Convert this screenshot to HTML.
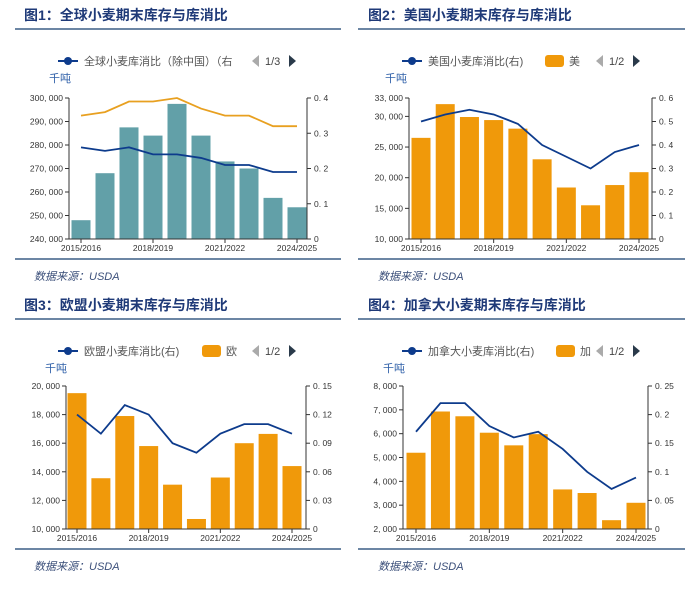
<!DOCTYPE html>
<html><head><meta charset="utf-8">
<style>
body{margin:0;background:#fff;}
svg{display:block;font-family:"Liberation Sans","Noto Sans CJK SC",sans-serif;}
</style></head>
<body>
<svg id="root" width="700" height="590" viewBox="0 0 700 590" xmlns="http://www.w3.org/2000/svg"></svg>
<script>
const categories = ["2015/2016","2016/2017","2017/2018","2018/2019","2019/2020","2020/2021","2021/2022","2022/2023","2023/2024","2024/2025"];
const tickCats = ["2015/2016","2018/2019","2021/2022","2024/2025"];

const world_stock = [248000,268000,287500,284000,297500,284000,273000,270000,257500,253500];
const world_ratio = [0.26,0.25,0.26,0.24,0.24,0.23,0.21,0.21,0.19,0.19];
const world_ratio2 = [0.35,0.36,0.39,0.39,0.40,0.37,0.35,0.35,0.32,0.32];
const world_left_ticks = [240000,250000,260000,270000,280000,290000,300000];
const world_right_ticks = [0,0.1,0.2,0.3,0.4];

const us_stock = [26500,32000,29900,29400,28000,23000,18400,15500,18800,20900];
const us_ratio = [0.50,0.53,0.55,0.53,0.49,0.40,0.35,0.30,0.37,0.40];
const us_left_ticks = [10000,15000,20000,25000,30000,33000];
const us_right_ticks = [0,0.1,0.2,0.3,0.4,0.5,0.6];

const eu_stock = [19500,13550,17900,15800,13100,10700,13600,16000,16650,14400];
const eu_ratio = [0.12,0.10,0.13,0.12,0.09,0.08,0.10,0.11,0.11,0.10];
const eu_left_ticks = [10000,12000,14000,16000,18000,20000];
const eu_right_ticks = [0,0.03,0.06,0.09,0.12,0.15];

const ca_stock = [5200,6930,6730,6040,5510,5980,3660,3510,2370,3100];
const ca_ratio = [0.17,0.22,0.22,0.18,0.16,0.17,0.14,0.10,0.07,0.09];
const ca_left_ticks = [2000,3000,4000,5000,6000,7000,8000];
const ca_right_ticks = [0,0.05,0.1,0.15,0.2,0.25];

const NS="http://www.w3.org/2000/svg";
const root=document.getElementById('root');
function mk(tag,attrs,parent,text){const e=document.createElementNS(NS,tag);for(const k in attrs)e.setAttribute(k,attrs[k]);if(text!==undefined)e.textContent=text;(parent||root).appendChild(e);return e;}
function fmt(v){return v>=1000?v.toLocaleString('en-US').replace(/,/g,', '):String(v);}
function fmtR(v){return v===0?"0":String(v).replace(/^0\./,"0. ");}

function panel(cfg){
  const g=mk('g',{});
  
  
  const t=mk('text',{x:cfg.px,y:cfg.py+20,'font-size':14,'font-weight':'bold',fill:'#1f3a78'},g,cfg.title);
  
  
  const hl=mk('line',{x1:cfg.lx1,x2:cfg.lx2,y1:cfg.py+29,y2:cfg.py+29,stroke:'#3b5f86','stroke-width':1.5},g);
  
  
  // legend
  const leg=mk('g',{},g);
  
  
  const ly=cfg.py+61;
  mk('line',{x1:cfg.legx,x2:cfg.legx+20,y1:ly,y2:ly,stroke:'#0d3b8c','stroke-width':2},leg);
  mk('circle',{cx:cfg.legx+10,cy:ly,r:4,fill:'#0d3b8c'},leg);
  mk('text',{x:cfg.legx+26,y:ly+4,'font-size':11,fill:'#555'},leg,cfg.legText);
  let nx=cfg.navx;
  if(cfg.legBar){
    mk('rect',{x:cfg.legBar,y:ly-6,width:19,height:12,rx:3,fill:'#f0990a'},leg);
    mk('text',{x:cfg.legBar+24,y:ly+4,'font-size':11,fill:'#555'},leg,cfg.legBarText);
  }
  mk('path',{d:`M${nx+7},${ly-6} L${nx},${ly} L${nx+7},${ly+6} Z`,fill:'#aaa'},leg);
  mk('text',{x:nx+13,y:ly+4,'font-size':11,fill:'#444'},leg,cfg.page);
  mk('path',{d:`M${nx+37},${ly-6} L${nx+44},${ly} L${nx+37},${ly+6} Z`,fill:'#2a3a4a'},leg);
  const un=mk('text',{x:cfg.ux,y:cfg.py+82,'font-size':11,fill:'#2e5fa8'},g,'千吨');
  
  

  const L=cfg.L,R=cfg.R,T=cfg.T,B=cfg.B;
  const n=categories.length;
  const c0=cfg.c0,c1=cfg.c1,step=(c1-c0)/(n-1);
  const xs=i=>c0+i*step;
  const yL=v=>B-(v-cfg.lmin)/(cfg.lmax-cfg.lmin)*(B-T);
  const yR=v=>B-(v-cfg.rmin)/(cfg.rmax-cfg.rmin)*(B-T);
  // bars
  cfg.stock.forEach((v,i)=>{
    const r=mk('rect',{x:xs(i)-cfg.bw/2,y:yL(v),width:cfg.bw,height:B-yL(v),fill:cfg.barColor},g);
    
    
  });
  // axes
  mk('line',{x1:L,x2:L,y1:T,y2:B,stroke:'#333','stroke-width':1},g);
  mk('line',{x1:R,x2:R,y1:T,y2:B,stroke:'#333','stroke-width':1},g);
  mk('line',{x1:L,x2:R,y1:B,y2:B,stroke:'#333','stroke-width':1},g);
  cfg.lt.forEach(v=>{const y=yL(v);mk('line',{x1:L-4,x2:L,y1:y,y2:y,stroke:'#333'},g);
    mk('text',{x:L-6,y:y+3,'font-size':8.5,fill:'#333','text-anchor':'end'},g,fmt(v));});
  cfg.rt.forEach(v=>{const y=yR(v);mk('line',{x1:R,x2:R+4,y1:y,y2:y,stroke:'#333'},g);
    mk('text',{x:R+7,y:y+3,'font-size':8.5,fill:'#333'},g,fmtR(v));});
  tickCats.forEach(c=>{const i=categories.indexOf(c);const x=xs(i);
    mk('line',{x1:x,x2:x,y1:B,y2:B+4,stroke:'#333'},g);
    mk('text',{x:x,y:B+12,'font-size':8.5,fill:'#333','text-anchor':'middle'},g,c);});
  // lines
  const drawLine=(arr,col,nm)=>{const p=mk('polyline',{points:arr.map((v,i)=>xs(i)+','+yR(v)).join(' '),fill:'none',stroke:col,'stroke-width':1.8},g);
    
    };
  if(cfg.ratio2)drawLine(cfg.ratio2,'#e8a020','ratio-line-2');
  drawLine(cfg.ratio,'#0d3b8c','ratio-line');
  const bl=mk('line',{x1:cfg.lx1,x2:cfg.lx2,y1:cfg.py+259,y2:cfg.py+259,stroke:'#3b5f86','stroke-width':1.5},g);
  
  
  const src=mk('text',{x:cfg.px+10,y:cfg.py+280,'font-size':11,'font-style':'italic',fill:'#3b4f7a'},g,'数据来源：USDA');
  
  
}

panel({name:'world-panel',title:'图1：全球小麦期末库存与库消比',px:24,py:0,lx1:15,lx2:341,legx:58,legText:'全球小麦库消比（除中国）（右',navx:252,page:'1/3',ux:49,
  L:69,R:307,T:98,B:239,c0:81,c1:297,bw:19,lmin:240000,lmax:300000,rmin:0,rmax:0.4,lt:world_left_ticks,rt:world_right_ticks,
  stock:world_stock,ratio:world_ratio,ratio2:world_ratio2,barColor:'#62a0a8'});
panel({name:'us-panel',title:'图2：美国小麦期末库存与库消比',px:368,py:0,lx1:358,lx2:685,legx:402,legText:'美国小麦库消比(右)',legBar:545,legBarText:'美',navx:596,page:'1/2',ux:385,
  L:409,R:652,T:98,B:239,c0:421,c1:639,bw:19,lmin:10000,lmax:33000,rmin:0,rmax:0.6,lt:us_left_ticks,rt:us_right_ticks,
  stock:us_stock,ratio:us_ratio,barColor:'#f0990a'});
panel({name:'eu-panel',title:'图3：欧盟小麦期末库存与库消比',px:24,py:290,lx1:15,lx2:341,legx:58,legText:'欧盟小麦库消比(右)',legBar:202,legBarText:'欧',navx:252,page:'1/2',ux:45,
  L:66,R:306,T:386,B:529,c0:77,c1:292,bw:19,lmin:10000,lmax:20000,rmin:0,rmax:0.15,lt:eu_left_ticks,rt:eu_right_ticks,
  stock:eu_stock,ratio:eu_ratio,barColor:'#f0990a'});
panel({name:'canada-panel',title:'图4：加拿大小麦期末库存与库消比',px:368,py:290,lx1:358,lx2:685,legx:402,legText:'加拿大小麦库消比(右)',legBar:556,legBarText:'加',navx:596,page:'1/2',ux:383,
  L:403,R:648,T:386,B:529,c0:416,c1:636,bw:19,lmin:2000,lmax:8000,rmin:0,rmax:0.25,lt:ca_left_ticks,rt:ca_right_ticks,
  stock:ca_stock,ratio:ca_ratio,barColor:'#f0990a'});
</script>
</body></html>
